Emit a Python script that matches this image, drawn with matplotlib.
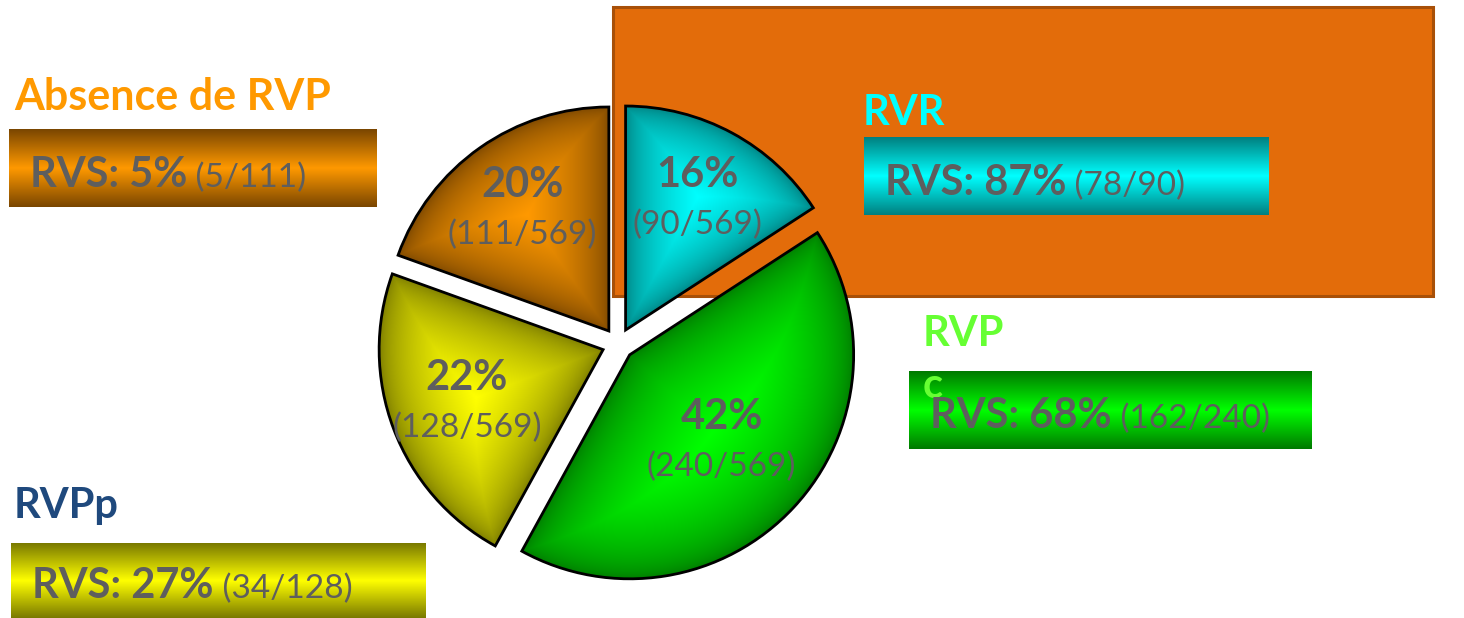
import matplotlib
matplotlib.use('Agg')
import matplotlib.pyplot as plt
from matplotlib.colors import to_rgb
from matplotlib.patches import Rectangle
import numpy as np

W, H = 1464, 618
plt.rcParams['font.family'] = ['Lato', 'DejaVu Sans']

# data (pie order: clockwise from 12 o'clock)
groups = ['RVR', 'RVPc', 'RVPp', 'Absence de RVP']
shown_titles = ['RVR', 'RVP\nc', 'RVPp', 'Absence de RVP']
n_group = [90, 240, 128, 111]
n_total = 569
rvs_n = [78, 162, 34, 5]

bright = ['#00FFFF', '#00FF00', '#FFFF00', '#FF9900']
dark = ['#008080', '#007A00', '#7A7A00', '#7A4600']
title_col = ['#00FFFF', '#66FF33', '#1F497D', '#FF9900']
GRAY = '#5E5E5E'

# layout in pixels (x, y from top); title y = baseline of last line
box_px = [(864, 137, 405, 78), (909, 371, 403, 78), (11, 543, 415, 75), (9, 129, 368, 78)]
box_txt = [(885, 195), (930, 428), (32, 598), (30, 187)]
title_px = [(863, 125), (923, 398), (14, 518), (14, 110)]
lab_r = [0.67, 0.56, 0.65, 0.67]
pie_c = (618, 344)
pie_R = 224
FS_B, FS_N = 30, 24
FS_T = [30, 30, 30, 31]


def pct(a, b):
    return int(a * 100.0 / b + 0.5)


fig = plt.figure(figsize=(W / 100, H / 100), dpi=100)
ax = fig.add_axes([0, 0, 1, 1])
ax.set_xlim(0, W)
ax.set_ylim(0, H)
ax.axis('off')

# big orange rectangle behind
ax.add_patch(Rectangle((613, H - 296), 820, 289, facecolor='#E36C0A',
                       edgecolor='#A85008', linewidth=2.2, zorder=0))

# gradient boxes
for i in range(4):
    x, y, w, h = box_px[i]
    s = np.linspace(0, 1, 100)
    t = 1 - np.abs(2 * s - 1)
    c0, c1 = np.array(to_rgb(dark[i])), np.array(to_rgb(bright[i]))
    img = c0[None, None, :] + (c1 - c0)[None, None, :] * t[:, None, None]
    ax.imshow(img, extent=(x, x + w, H - y - h, H - y), aspect='auto',
              interpolation='bilinear', zorder=1)

ax.set_xlim(0, W)
ax.set_ylim(0, H)

renderer = fig.canvas.get_renderer()


def two_part(axis, x, y, bold, normal, fs_b, fs_n):
    tb = axis.text(x, y, bold, fontsize=fs_b, fontweight='bold', color=GRAY,
                   va='baseline', ha='left', zorder=6)
    bb = tb.get_window_extent(renderer)
    x_end = axis.transData.inverted().transform((bb.x1, bb.y0))[0]
    axis.text(x_end, y, normal, fontsize=fs_n, color=GRAY, va='baseline',
              ha='left', zorder=6)


for i in range(4):
    tx, ty = title_px[i]
    ax.text(tx, H - ty, shown_titles[i], fontsize=FS_T[i], fontweight='bold',
            color=title_col[i], va='baseline', ha='left', linespacing=1.45, zorder=5)
    x, y = box_txt[i]
    two_part(ax, x, H - y, 'RVS: %d%%' % pct(rvs_n[i], n_group[i]),
             ' (%d/%d)' % (rvs_n[i], n_group[i]), FS_B, FS_N)

# pie on its own axes
half = 280
axp = fig.add_axes([(pie_c[0] - half) / W, (H - pie_c[1] - half) / H,
                    2 * half / W, 2 * half / H])
axp.set_zorder(2)
axp.patch.set_alpha(0)
wedges, _ = axp.pie(n_group, explode=[0.071] * 4, startangle=90, counterclock=False,
                    colors=['none'] * 4,
                    wedgeprops=dict(edgecolor='black', linewidth=2.0, zorder=4))
lim = half / pie_R
axp.set_xlim(-lim, lim)
axp.set_ylim(-lim, lim)
axp.axis('off')

N = 560
g = np.linspace(-lim, lim, N)
X, Y = np.meshgrid(g, g)
for i, w in enumerate(wedges):
    cx, cy = w.center
    r, t1, t2 = w.r, w.theta1, w.theta2
    dx, dy = X - cx, Y - cy
    rho = np.hypot(dx, dy)
    phi = np.degrees(np.arctan2(dy, dx))
    a1 = (phi - t1) % 360
    a2 = (t2 - phi) % 360
    d1 = np.where(a1 < 90, rho * np.sin(np.radians(a1)), rho)
    d2 = np.where(a2 < 90, rho * np.sin(np.radians(a2)), rho)
    d = np.minimum(np.minimum(r - rho, d1), d2)
    inside = (rho <= r) & (a1 <= (t2 - t1))
    t = np.clip(d / d[inside].max(), 0, 1) ** 0.6
    c0, c1 = np.array(to_rgb(dark[i])), np.array(to_rgb(bright[i]))
    img = c0[None, None, :] + (c1 - c0)[None, None, :] * t[:, :, None]
    im = axp.imshow(img, extent=(-lim, lim, -lim, lim), origin='lower',
                    interpolation='bilinear', zorder=2)
    im.set_clip_path(w)

    mid = np.radians((t1 + t2) / 2)
    lx = cx + lab_r[i] * r * np.cos(mid)
    ly = cy + lab_r[i] * r * np.sin(mid)
    axp.text(lx, ly + 11 / pie_R, '%d%%' % pct(n_group[i], n_total), fontsize=FS_B,
             fontweight='bold', color=GRAY, ha='center', va='baseline', zorder=6)
    axp.text(lx, ly - 36 / pie_R, '(%d/%d)' % (n_group[i], n_total), fontsize=FS_N,
             color=GRAY, ha='center', va='baseline', zorder=6)

axp.set_xlim(-lim, lim)
axp.set_ylim(-lim, lim)

fig.savefig('out.png', dpi=100)
